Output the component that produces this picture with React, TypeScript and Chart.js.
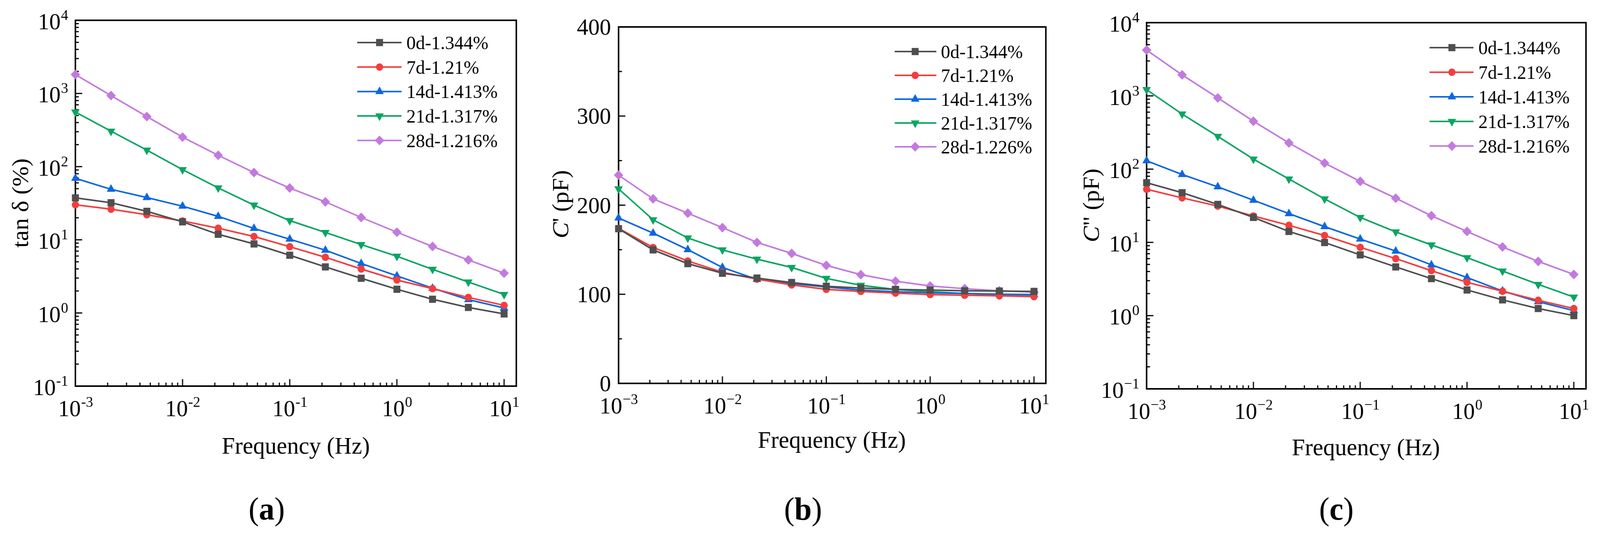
import React, { useEffect, useRef, useState } from 'react';
import { Chart, registerables } from 'chart.js';
import { drawPoint } from 'chart.js/helpers';

Chart.register(...registerables);

// Frequency points (Hz), three per decade
const frequency = [0.001, 0.00215, 0.00464, 0.01, 0.0215, 0.0464, 0.1, 0.215, 0.464, 1, 2.15, 4.64, 10];

const namesA = ['0d-1.344%', '7d-1.21%', '14d-1.413%', '21d-1.317%', '28d-1.216%'];
const namesB = ['0d-1.344%', '7d-1.21%', '14d-1.413%', '21d-1.317%', '28d-1.226%'];
const namesC = ['0d-1.344%', '7d-1.21%', '14d-1.413%', '21d-1.317%', '28d-1.216%'];

// (a) tan δ (%)
const tanD0d = [37.4, 32.1, 24.5, 17.6, 11.9, 8.78, 6.15, 4.26, 2.98, 2.11, 1.54, 1.19, 0.97];
const tanD7d = [30.1, 26.2, 22.0, 18.1, 14.4, 11.1, 8.05, 5.77, 3.99, 2.82, 2.15, 1.63, 1.27];
const tanD14d = [69.2, 49.0, 37.8, 28.8, 20.9, 14.3, 10.2, 7.2, 4.74, 3.21, 2.18, 1.52, 1.17];
const tanD21d = [557, 305, 168, 91, 51.2, 29.8, 18.3, 12.6, 8.6, 5.96, 3.95, 2.65, 1.79];
const tanD28d = [1811, 937, 484, 253, 143, 83, 51, 33, 20.2, 12.7, 8.1, 5.3, 3.5];

// (b) C' (pF)
const cp0d = [173.6, 149.8, 134.4, 123.6, 118.2, 113.2, 109.0, 107.0, 105.5, 104.7, 103.9, 103.6, 103.2];
const cp7d = [174.0, 152.5, 137.4, 124.7, 117.0, 110.5, 105.5, 103.2, 101.3, 99.7, 98.9, 98.2, 97.4];
const cp14d = [185.6, 168.6, 150.1, 130.1, 116.7, 112.0, 108.2, 104.7, 102.8, 101.6, 100.9, 100.1, 99.7];
const cp21d = [218.3, 183.6, 163.2, 149.8, 139.4, 130.1, 117.8, 110.1, 105.5, 102.8, 100.9, 99.7, 98.9];
const cp28d = [233.7, 207.1, 191.0, 174.8, 158.2, 145.9, 132.4, 122.0, 114.7, 109.3, 106.3, 103.9, 102.4];

// (c) C'' (pF)
const cpp0d = [65.2, 47.7, 33.0, 21.9, 14.1, 9.95, 6.75, 4.62, 3.2, 2.24, 1.64, 1.25, 1.0];
const cpp7d = [53.1, 40.5, 31.3, 22.9, 17.1, 12.4, 8.56, 6.0, 4.11, 2.85, 2.15, 1.62, 1.25];
const cpp14d = [130, 84.5, 57.3, 37.6, 24.7, 16.4, 11.1, 7.6, 4.93, 3.31, 2.17, 1.55, 1.17];
const cpp21d = [1217, 565, 280, 137, 73.4, 39.2, 21.9, 13.9, 9.24, 6.19, 4.06, 2.67, 1.79];
const cpp28d = [4217, 1936, 939, 451, 228, 121, 68, 40.1, 23.1, 14.1, 8.65, 5.5, 3.65];

// tick labels
const xTickExponents = [-3, -2, -1, 0, 1];
const logYExponents = [-1, 0, 1, 2, 3, 4];
const cPrimeTicks = [0, 100, 200, 300, 400];
const cPrimeMinorTicks = [50, 150, 250, 350];
const minorMultipliers = [2, 3, 4, 5, 6, 7, 8, 9];

const seriesStyles = [
  { color: '#4f4f4f', pointStyle: 'rect', radius: 13, rotation: 0 },
  { color: '#f43d3d', pointStyle: 'circle', radius: 9.5, rotation: 0 },
  { color: '#0d67e0', pointStyle: 'triangle', radius: 13, rotation: 0 },
  { color: '#0ba463', pointStyle: 'triangle', radius: 13, rotation: 180 },
  { color: '#c27ade', pointStyle: 'rectRot', radius: 12.5, rotation: 0 },
];

const W = 1408;
const H = 1378;
const serif = '"Liberation Serif", "Times New Roman", serif';

type Part = { text: string; italic?: boolean };

interface PanelSpec {
  offset: number;
  area: { left: number; top: number; right: number; bottom: number };
  yLog: boolean;
  yMin: number;
  yMax: number;
  series: number[][];
  names: string[];
  minus: string;
  yTitle: Part[];
  yTitleX: number;
  yTitleY: number;
  xTitleX: number;
  xTitleBase: number;
  tag: string;
  tagX: number;
  tagBase: number;
  legend: { x1: number; x2: number; mx: number; tx: number; y0: number; step: number };
}

// "10" with a superscript exponent
function powerLabel(ctx: CanvasRenderingContext2D, exp: number, minus: string, x: number, yMid: number, align: string) {
  const base = `60px ${serif}`;
  const sup = `38px ${serif}`;
  const supText = exp < 0 ? minus + String(-exp) : String(exp);
  ctx.font = base;
  const wb = ctx.measureText('10').width;
  ctx.font = sup;
  const ws = ctx.measureText(supText).width;
  const x0 = align === 'center' ? x - (wb + ws) / 2 : x - wb - ws;
  ctx.textAlign = 'left';
  ctx.textBaseline = 'alphabetic';
  ctx.font = base;
  ctx.fillText('10', x0, yMid + 20);
  ctx.font = sup;
  ctx.fillText(supText, x0 + wb + 1, yMid - 4);
}

function makeDecor(spec: PanelSpec) {
  return {
    id: 'decor',
    beforeDatasetsDraw(chart: any) {
      const { ctx, chartArea: a } = chart;
      const xs = chart.scales.x;
      const ys = chart.scales.y;
      ctx.save();
      ctx.strokeStyle = '#000';
      ctx.lineWidth = 4;
      ctx.strokeRect(a.left, a.top, a.right - a.left, a.bottom - a.top);
      ctx.lineWidth = 3;
      const tick = (x1: number, y1: number, x2: number, y2: number) => {
        ctx.beginPath();
        ctx.moveTo(x1, y1);
        ctx.lineTo(x2, y2);
        ctx.stroke();
      };
      // x ticks (inward)
      xTickExponents.forEach((e) => {
        const px = xs.getPixelForValue(Math.pow(10, e));
        tick(px, a.bottom, px, a.bottom - 18);
        if (e < 1) {
          minorMultipliers.forEach((m) => {
            const mx = xs.getPixelForValue(m * Math.pow(10, e));
            tick(mx, a.bottom, mx, a.bottom - 9);
          });
        }
      });
      // y ticks (inward)
      if (spec.yLog) {
        logYExponents.forEach((e) => {
          const py = ys.getPixelForValue(Math.pow(10, e));
          tick(a.left, py, a.left + 18, py);
          if (e < 4) {
            minorMultipliers.forEach((m) => {
              const my = ys.getPixelForValue(m * Math.pow(10, e));
              tick(a.left, my, a.left + 9, my);
            });
          }
        });
      } else {
        cPrimeTicks.forEach((v) => {
          const py = ys.getPixelForValue(v);
          tick(a.left, py, a.left + 18, py);
        });
        cPrimeMinorTicks.forEach((v) => {
          const py = ys.getPixelForValue(v);
          tick(a.left, py, a.left + 9, py);
        });
      }
      ctx.restore();
    },
    afterDraw(chart: any) {
      const { ctx, chartArea: a } = chart;
      const xs = chart.scales.x;
      const ys = chart.scales.y;
      ctx.save();
      ctx.fillStyle = '#000';
      // x tick labels
      xTickExponents.forEach((e) => {
        const px = xs.getPixelForValue(Math.pow(10, e));
        powerLabel(ctx, e, spec.minus, px, a.bottom + 57, 'center');
      });
      // y tick labels
      if (spec.yLog) {
        logYExponents.forEach((e) => {
          const py = ys.getPixelForValue(Math.pow(10, e));
          powerLabel(ctx, e, spec.minus, a.left - 20, py + 3, 'right');
        });
      } else {
        ctx.font = `60px ${serif}`;
        ctx.textAlign = 'right';
        ctx.textBaseline = 'alphabetic';
        cPrimeTicks.forEach((v) => {
          const py = ys.getPixelForValue(v);
          ctx.fillText(String(v), a.left - 20, py + 20);
        });
      }
      // x title
      ctx.font = `62px ${serif}`;
      ctx.textAlign = 'center';
      ctx.textBaseline = 'alphabetic';
      ctx.fillText('Frequency (Hz)', spec.xTitleX, spec.xTitleBase);
      // y title (rotated, mixed italic)
      ctx.save();
      ctx.translate(spec.yTitleX, spec.yTitleY);
      ctx.rotate(-Math.PI / 2);
      ctx.textBaseline = 'middle';
      ctx.textAlign = 'left';
      const fonts = spec.yTitle.map((p) => (p.italic ? `italic 62px ${serif}` : `62px ${serif}`));
      const widths = spec.yTitle.map((p, i) => {
        ctx.font = fonts[i];
        return ctx.measureText(p.text).width;
      });
      let cx = -widths.reduce((s, w) => s + w, 0) / 2;
      spec.yTitle.forEach((p, i) => {
        ctx.font = fonts[i];
        ctx.fillText(p.text, cx, 0);
        cx += widths[i];
      });
      ctx.restore();
      // panel tag, e.g. (a)
      ctx.textBaseline = 'alphabetic';
      ctx.textAlign = 'left';
      const pre = `82px ${serif}`;
      const bold = `bold 82px ${serif}`;
      ctx.font = pre;
      const wp = ctx.measureText('(').width;
      ctx.font = bold;
      const wt = ctx.measureText(spec.tag).width;
      let tx = spec.tagX - (2 * wp + wt) / 2;
      ctx.font = pre;
      ctx.fillText('(', tx, spec.tagBase);
      tx += wp;
      ctx.font = bold;
      ctx.fillText(spec.tag, tx, spec.tagBase);
      tx += wt;
      ctx.font = pre;
      ctx.fillText(')', tx, spec.tagBase);
      // legend
      const lg = spec.legend;
      spec.names.forEach((name, i) => {
        const st = seriesStyles[i];
        const y = lg.y0 + i * lg.step;
        ctx.strokeStyle = st.color;
        ctx.lineWidth = 4;
        ctx.beginPath();
        ctx.moveTo(lg.x1, y);
        ctx.lineTo(lg.x2, y);
        ctx.stroke();
        ctx.fillStyle = st.color;
        drawPoint(ctx, { pointStyle: st.pointStyle, radius: st.radius, rotation: st.rotation, borderWidth: 0 } as any, lg.mx, y);
        ctx.fillStyle = '#000';
        ctx.font = `49px ${serif}`;
        ctx.textAlign = 'left';
        ctx.textBaseline = 'alphabetic';
        ctx.fillText(name, lg.tx, y + 17);
      });
      ctx.restore();
    },
  };
}

const panelA: PanelSpec = {
  offset: 0,
  area: { left: 199, top: 52, right: 1363, bottom: 989 },
  yLog: true,
  yMin: 0.1,
  yMax: 10000,
  series: [tanD0d, tanD7d, tanD14d, tanD21d, tanD28d],
  names: namesA,
  minus: '-',
  yTitle: [{ text: 'tan δ (%)' }],
  yTitleX: 58,
  yTitleY: 520,
  xTitleX: 781,
  xTitleBase: 1162,
  tag: 'a',
  tagX: 704,
  tagBase: 1331,
  legend: { x1: 943, x2: 1060, mx: 1002, tx: 1073, y0: 109, step: 62.7 },
};

const panelB: PanelSpec = {
  offset: 1408,
  area: { left: 225, top: 69, right: 1353, bottom: 982 },
  yLog: false,
  yMin: 0,
  yMax: 400,
  series: [cp0d, cp7d, cp14d, cp21d, cp28d],
  names: namesB,
  minus: '\u2212',
  yTitle: [{ text: 'C', italic: true }, { text: "' (pF)" }],
  yTitleX: 76,
  yTitleY: 523,
  xTitleX: 788,
  xTitleBase: 1147,
  tag: 'b',
  tagX: 712,
  tagBase: 1331,
  legend: { x1: 954, x2: 1064, mx: 1008, tx: 1076, y0: 132, step: 61 },
};

const panelC: PanelSpec = {
  offset: 2816,
  area: { left: 211, top: 58, right: 1371, bottom: 996 },
  yLog: true,
  yMin: 0.1,
  yMax: 10000,
  series: [cpp0d, cpp7d, cpp14d, cpp21d, cpp28d],
  names: namesC,
  minus: '\u2212',
  yTitle: [{ text: 'C', italic: true }, { text: '" (pF)' }],
  yTitleX: 69,
  yTitleY: 526,
  xTitleX: 790,
  xTitleBase: 1166,
  tag: 'c',
  tagX: 712,
  tagBase: 1331,
  legend: { x1: 958, x2: 1074, mx: 1017, tx: 1087, y0: 122, step: 63 },
};

function Panel({ spec }: { spec: PanelSpec }) {
  const canvasRef = useRef<HTMLCanvasElement | null>(null);

  useEffect(() => {
    if (!canvasRef.current) return;
    const a = spec.area;
    const chart = new Chart(canvasRef.current, {
      type: 'line',
      data: {
        datasets: spec.series.map((vals, i) => {
          const st = seriesStyles[i];
          return {
            label: spec.names[i],
            data: frequency.map((f, k) => ({ x: f, y: vals[k] })),
            borderColor: st.color,
            backgroundColor: st.color,
            borderWidth: 4,
            pointStyle: st.pointStyle as any,
            pointRadius: st.radius,
            pointRotation: st.rotation,
            pointBackgroundColor: st.color,
            pointBorderWidth: 0,
            tension: 0,
            clip: false as any,
          };
        }),
      },
      options: {
        responsive: false,
        animation: false,
        devicePixelRatio: 1,
        events: [],
        layout: { padding: { left: a.left, top: a.top, right: W - a.right, bottom: H - a.bottom } },
        plugins: { legend: { display: false }, tooltip: { enabled: false }, title: { display: false } },
        scales: {
          x: { type: 'logarithmic', min: 0.001, max: 13, display: false },
          y: { type: spec.yLog ? 'logarithmic' : 'linear', min: spec.yMin, max: spec.yMax, display: false },
        },
      },
      plugins: [makeDecor(spec)],
    });
    return () => {
      chart.destroy();
    };
  }, [spec]);

  return (
    <canvas
      ref={canvasRef}
      width={W}
      height={H}
      style={{ position: 'absolute', left: spec.offset, top: 0, width: W, height: H }}
    />
  );
}

export default function App() {
  const [sx, setSx] = useState(1);
  const [sy, setSy] = useState(1);

  useEffect(() => {
    document.body.style.margin = '0';
    document.body.style.background = '#fff';
    // the viewport may be smaller than the 4224x1378 design; stretch the figure to fill it
    setSx(window.innerWidth / 4224);
    setSy(window.innerHeight / 1378);
  }, []);

  return (
    <div style={{ position: 'absolute', left: 0, top: 0, width: 4224, height: 1378, background: '#fff', overflow: 'hidden', transform: `scale(${sx}, ${sy})`, transformOrigin: '0 0' }}>
      <Panel spec={panelA} />
      <Panel spec={panelB} />
      <Panel spec={panelC} />
    </div>
  );
}
